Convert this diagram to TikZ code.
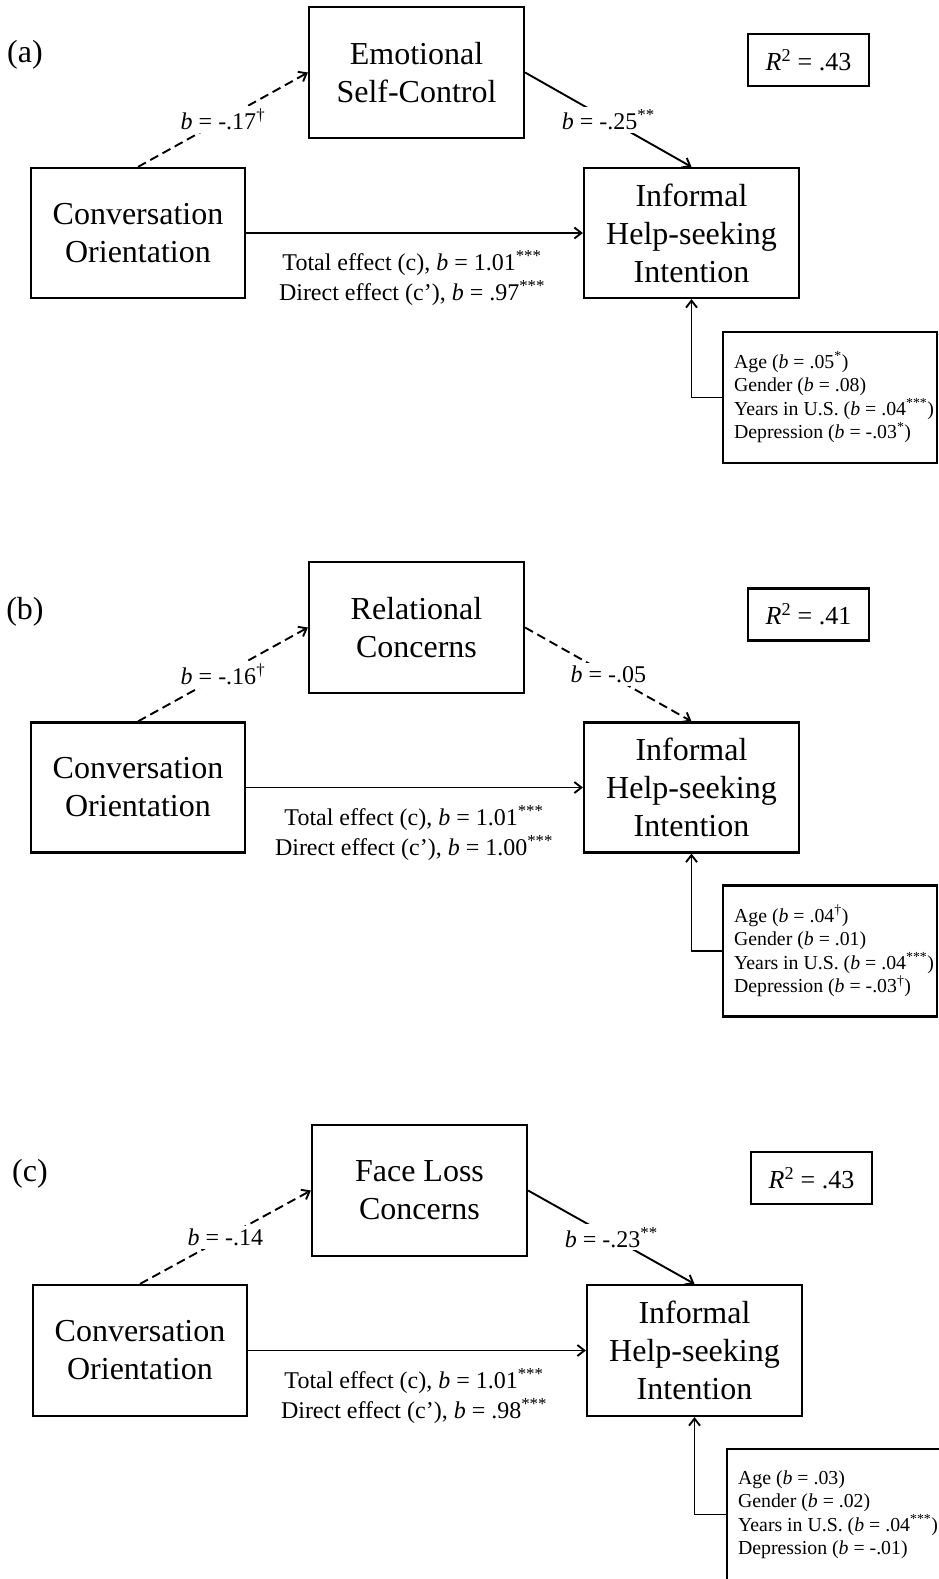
\documentclass[tikz,border=0pt]{standalone}
\usepackage{fontspec}
\setmainfont{Liberation Serif}
\usetikzlibrary{arrows.meta}
\tikzset{
  varbox/.style={draw, line width=2.2pt, minimum width=215pt, minimum height=131pt,
    inner sep=0pt, align=center, font=\fontsize{32}{38}\selectfont},
  rbox/.style={draw, line width=2.2pt, minimum width=121pt, minimum height=52pt,
    inner sep=0pt, font=\fontsize{26}{30}\selectfont},
  covbox/.style={draw, line width=2.2pt, minimum width=214pt, minimum height=131pt, inner sep=0pt},
  covtext/.style={anchor=west, align=left, inner sep=0pt, font=\fontsize{19.8}{23.5}\selectfont},
  panellabel/.style={inner sep=0pt, font=\fontsize{32}{38}\selectfont},
  sig/.style={line width=1.9pt, -{Straight Barb[length=7pt,width=11pt]}},
  ns/.style={sig, dash pattern=on 9pt off 5pt},
  coef/.style={fill=white, inner sep=3pt, font=\fontsize{24}{29}\selectfont},
  effects/.style={align=center, inner sep=0pt, font=\fontsize{24}{30}\selectfont},
}
\begin{document}
\begin{tikzpicture}[x=1pt, y=-1pt]
\useasboundingbox (0,0) rectangle (939,1579);
\clip (0,0) rectangle (939,1579);

% ---------- panel (a): emotional self-control ----------
\node[panellabel] (pa) at (25,55) {(a)};
\node[varbox] (meda) at (416.5,72.5) {Emotional\\Self-Control};
\node[varbox, minimum width=214pt, minimum height=130pt] (coa) at (138,233) {Conversation\\Orientation};
\node[varbox, minimum height=130pt] (infa) at (691.5,233) {Informal\\Help-seeking\\Intention};
\node[rbox] (ra) at (808.5,60) {\textit{R}\textsuperscript{2} = .43};
\node[covbox] (cova) at (830,397.5) {};
\node[covtext] (cta) at ([xshift=12pt]cova.west)
  {Age (\textit{b} = .05\textsuperscript{*})\\
   Gender (\textit{b} = .08)\\
   Years in U.S. (\textit{b} = .04\textsuperscript{***})\\
   Depression (\textit{b} = -.03\textsuperscript{*})};
\draw[ns] (coa.north) -- node[coef] {\textit{b} = -.17\textsuperscript{†}} (meda.west);
\draw[sig] (meda.east) -- node[coef] {\textit{b} = -.25\textsuperscript{**}} (infa.north);
\draw[sig] (coa.east) -- (infa.west);
\node[effects] (efa) at (412,278)
  {Total effect (c), \textit{b} = 1.01\textsuperscript{***}\\
   Direct effect (c’), \textit{b} = .97\textsuperscript{***}};
\draw[sig] (cova.west) -| (infa.south);

% ---------- panel (b): relational concerns ----------
\begin{scope}[shift={(0,554)}]
\node[panellabel] (pb) at (25,58) {(b)};
\node[varbox] (medb) at (416.5,73.5) {Relational\\Concerns};
\node[varbox, minimum width=214pt, minimum height=130pt] (cob) at (138,233.5) {Conversation\\Orientation};
\node[varbox, minimum height=130pt] (infb) at (691.5,233.5) {Informal\\Help-seeking\\Intention};
\node[rbox] (rb) at (808.5,60.5) {\textit{R}\textsuperscript{2} = .41};
\node[covbox] (covb) at (830,397) {};
\node[covtext] (ctb) at ([xshift=12pt]covb.west)
  {Age (\textit{b} = .04\textsuperscript{†})\\
   Gender (\textit{b} = .01)\\
   Years in U.S. (\textit{b} = .04\textsuperscript{***})\\
   Depression (\textit{b} = -.03\textsuperscript{†})};
\draw[ns] (cob.north) -- node[coef] {\textit{b} = -.16\textsuperscript{†}} (medb.west);
\draw[ns] (medb.east) -- node[coef] {\textit{b} = -.05} (infb.north);
\draw[sig] (cob.east) -- (infb.west);
\node[effects] (efb) at (414,279.5)
  {Total effect (c), \textit{b} = 1.01\textsuperscript{***}\\
   Direct effect (c’), \textit{b} = 1.00\textsuperscript{***}};
\draw[sig] (covb.west) -| (infb.south);
\end{scope}

% ---------- panel (c): face loss concerns ----------
\begin{scope}[shift={(3,1117)}]
\node[panellabel] (pc) at (27,57) {(c)};
\node[varbox] (medc) at (416.5,73.5) {Face Loss\\Concerns};
\node[varbox, minimum width=214pt, minimum height=131pt] (coc) at (137,233.5) {Conversation\\Orientation};
\node[varbox, minimum height=131pt] (infc) at (691.5,233.5) {Informal\\Help-seeking\\Intention};
\node[rbox] (rc) at (808.5,61) {\textit{R}\textsuperscript{2} = .43};
\node[covbox] (covc) at (831,397.5) {};
\node[covtext] (ctc) at ([xshift=12pt]covc.west)
  {Age (\textit{b} = .03)\\
   Gender (\textit{b} = .02)\\
   Years in U.S. (\textit{b} = .04\textsuperscript{***})\\
   Depression (\textit{b} = -.01)};
\draw[ns] (coc.north) -- node[coef] {\textit{b} = -.14} (medc.west);
\draw[sig] (medc.east) -- node[coef] {\textit{b} = -.23\textsuperscript{**}} (infc.north);
\draw[sig] (coc.east) -- (infc.west);
\node[effects] (efc) at (411,279)
  {Total effect (c), \textit{b} = 1.01\textsuperscript{***}\\
   Direct effect (c’), \textit{b} = .98\textsuperscript{***}};
\draw[sig] (covc.west) -| (infc.south);
\end{scope}
\end{tikzpicture}
\end{document}
